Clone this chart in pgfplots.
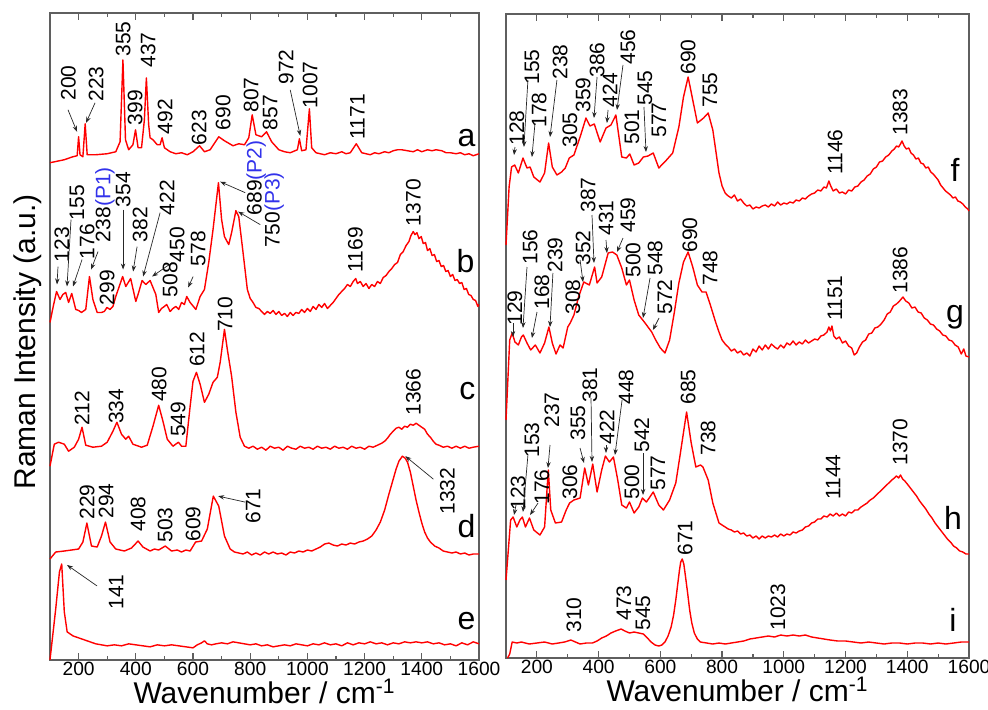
\documentclass[border=0pt]{standalone}
\usepackage{pgfplots}
\pgfplotsset{compat=1.18}
\usepackage{fontspec}
\setmainfont{Liberation Sans}
\usetikzlibrary{arrows.meta}
\definecolor{pblue}{RGB}{50,50,235}
\definecolor{framegray}{RGB}{95,95,95}
\begin{document}
\begin{tikzpicture}
\useasboundingbox (0,0) rectangle (494pt,354.5pt);
\pgfplotsset{
  raman/.style={
    scale only axis, anchor=south west, clip=false,
    xmin=100, xmax=1600, ymin=0,
    xtick={200,400,...,1600}, minor xtick={300,500,...,1500},
    ytick=\empty,
    tick align=inside, major tick length=3.5pt, minor tick length=2pt,
    every tick/.style={framegray, line width=0.6pt},
    axis line style={draw=framegray, line width=0.8pt},
    /pgf/number format/assume math mode=true,
    /pgf/number format/1000 sep={},
    tick label style={font=\fontsize{9.6}{10}\selectfont},
    xticklabel style={inner sep=1pt},
    xlabel={Wavenumber / cm\textsuperscript{-1}},
    xlabel style={font=\fontsize{15}{16}\selectfont, inner sep=0pt, yshift=-0.3pt},
  },
}
\tikzset{
  spec/.style={red, line width=0.7pt, line join=round},
  pk/.style={rotate=90, font=\fontsize{10.5}{11}\selectfont, inner sep=0pt},
  lt/.style={font=\fontsize{16}{17}\selectfont, inner sep=0pt},
  ar/.style={-{Stealth[length=3pt,width=2.2pt]}, line width=0.35pt, black!85},
}
\node[rotate=90, font=\fontsize{15}{16}\selectfont] at (14pt,183.5pt) {Raman Intensity (a.u.)};
% ================= LEFT PANEL =================
\begin{axis}[raman, at={(25pt,24.6pt)}, width=214.5pt, height=323.4pt, ymax=648]
% a
\addplot[spec] coordinates {(100,498) (150,501) (180,504) (195,505) (200,524) (205,506) (215,504) (223,537) (230,506) (260,506) (300,507) (330,509) (345,519) (355,601) (364,521) (375,511) (390,516) (399,531) (408,513) (420,513) (430,541) (437,583) (445,536) (450,523) (460,521) (475,516) (485,516) (492,523) (500,513) (520,509) (540,507) (560,508) (580,506) (600,509) (623,515) (640,509) (660,511) (690,524) (710,520) (740,515) (760,517) (780,516) (795,523) (807,546) (820,526) (840,524) (857,529) (875,519) (900,511) (920,509) (940,508) (965,511) (972,522) (980,510) (995,511) (1007,552) (1015,513) (1030,508) (1045,507) (1060,506) (1080,508) (1100,507) (1120,509) (1135,507) (1150,508) (1171,517) (1190,508) (1205,507) (1220,506) (1235,508) (1250,507) (1270,509) (1285,508) (1300,510) (1315,511) (1330,511) (1350,510) (1370,509) (1385,511) (1400,509) (1420,511) (1435,510) (1450,511) (1470,510) (1485,508) (1500,508) (1520,507) (1535,508) (1550,506) (1565,507) (1580,505) (1600,507)};
% b
\addplot[spec] coordinates {(100,338) (112,355) (123,369) (135,361) (145,366) (155,368) (165,358) (176,367) (190,351) (200,350) (210,348) (225,351) (238,384) (250,361) (265,348) (280,348) (290,349) (299,353) (310,351) (320,354) (330,364) (354,384) (365,374) (382,382) (400,359) (410,368) (422,380) (435,376) (450,380) (470,366) (480,348) (490,352) (500,354) (508,356) (520,349) (530,352) (540,354) (550,351) (560,358) (570,356) (578,364) (590,358) (610,351) (625,364) (640,371) (655,398) (670,431) (689,478) (700,441) (710,424) (725,416) (735,428) (750,450) (760,444) (775,408) (790,371) (800,362) (810,358) (820,353) (830,352) (840,349) (850,346) (860,349) (870,347) (880,350) (890,346) (900,349) (910,345) (920,347) (930,344) (940,348) (950,345) (960,348) (970,347) (980,351) (990,348) (1000,352) (1010,349) (1020,354) (1030,351) (1040,356) (1050,353) (1060,357) (1070,352) (1080,355) (1090,358) (1100,362) (1110,366) (1120,369) (1130,372) (1140,376) (1150,374) (1160,379) (1169,382) (1175,377) (1185,379) (1195,374) (1205,377) (1215,372) (1225,376) (1235,374) (1245,379) (1255,377) (1265,383) (1275,385) (1285,389) (1295,392) (1305,396) (1315,398) (1325,406) (1335,409) (1345,415) (1355,419) (1362,425) (1370,429) (1376,426) (1383,428) (1390,422) (1398,424) (1405,417) (1413,418) (1420,410) (1428,412) (1436,405) (1444,406) (1452,399) (1460,400) (1468,394) (1476,395) (1484,389) (1492,390) (1500,384) (1508,386) (1516,380) (1524,381) (1532,377) (1540,378) (1548,371) (1556,372) (1564,366) (1572,365) (1580,361) (1588,360) (1596,354) (1600,356)};
% c
\addplot[spec] coordinates {(100,194) (115,216) (130,218) (150,216) (165,209) (185,213) (200,221) (212,233) (225,215) (250,213) (280,214) (300,218) (320,229) (334,238) (350,226) (365,221) (375,224) (390,216) (420,213) (440,215) (460,234) (480,255) (495,239) (510,221) (530,214) (549,218) (560,214) (575,214) (590,254) (600,279) (612,288) (625,276) (640,258) (655,266) (670,278) (685,283) (695,298) (710,331) (720,311) (735,284) (750,248) (765,223) (780,214) (795,212) (810,214) (825,211) (840,213) (855,210) (870,214) (885,212) (900,213) (915,210) (930,214) (945,212) (960,211) (975,214) (990,212) (1005,213) (1020,211) (1035,214) (1050,212) (1065,213) (1080,211) (1095,214) (1110,212) (1125,213) (1140,211) (1155,214) (1170,212) (1185,213) (1200,211) (1215,214) (1230,213) (1245,215) (1260,217) (1270,219) (1280,222) (1290,226) (1300,229) (1310,232) (1320,233) (1330,231) (1340,234) (1350,233) (1360,236) (1370,235) (1380,237) (1390,235) (1400,233) (1410,231) (1420,226) (1430,223) (1440,219) (1450,216) (1460,215) (1475,213) (1490,214) (1505,212) (1520,214) (1535,212) (1550,214) (1565,212) (1580,213) (1600,214)};
% d
\addplot[spec] coordinates {(100,101) (120,108) (150,109) (175,110) (200,111) (215,118) (229,137) (245,114) (265,113) (280,124) (294,138) (310,118) (330,111) (345,110) (360,109) (385,112) (408,119) (425,113) (450,109) (465,111) (480,110) (503,114) (525,109) (545,110) (560,108) (575,110) (590,109) (609,118) (630,119) (650,131) (671,164) (690,154) (710,124) (730,111) (745,108) (760,107) (775,106) (790,108) (805,105) (820,107) (835,105) (850,108) (865,106) (880,108) (895,106) (910,107) (925,105) (940,108) (955,107) (970,109) (985,108) (1000,110) (1015,109) (1030,111) (1045,113) (1060,116) (1075,117) (1090,115) (1105,114) (1120,116) (1135,115) (1150,117) (1165,116) (1180,118) (1195,119) (1210,121) (1225,124) (1240,130) (1255,138) (1270,150) (1285,166) (1300,181) (1310,191) (1320,199) (1332,204) (1342,202) (1350,198) (1360,188) (1370,174) (1380,160) (1390,148) (1400,137) (1410,128) (1420,122) (1430,118) (1445,114) (1460,112) (1475,109) (1490,108) (1505,107) (1520,108) (1535,106) (1550,107) (1565,105) (1580,106) (1600,106)};
% e
\addplot[spec] coordinates {(100,0) (120,51) (133,88) (141,96) (150,48) (160,28) (180,24) (200,22) (220,20) (240,18) (260,16) (280,15) (300,14) (325,15) (350,14) (375,16) (400,15) (425,14) (450,13) (475,15) (500,14) (525,15) (550,14) (575,13) (600,12) (615,15) (630,17) (640,19) (650,16) (665,15) (680,16) (700,17) (720,16) (740,18) (760,17) (780,16) (800,15) (820,16) (840,14) (860,15) (880,13) (900,14) (920,15) (940,14) (960,16) (980,15) (1000,14) (1020,16) (1040,15) (1060,17) (1080,15) (1100,16) (1120,14) (1140,17) (1160,15) (1180,17) (1200,16) (1220,18) (1240,16) (1260,17) (1280,15) (1300,17) (1320,16) (1340,18) (1360,17) (1380,18) (1400,17) (1420,18) (1440,16) (1460,17) (1480,15) (1500,16) (1520,14) (1540,17) (1560,15) (1580,18) (1600,16)};
% labels a
\node[pk] at (164,578) {200}; \draw[ar] (163,551) -- (194.5,529);
\node[pk] at (261,577) {223}; \draw[ar] (257.5,558) -- (226,538);
\node[pk] at (355.5,622) {355};
\node[pk] at (397.5,553) {399};
\node[pk] at (443,611) {437};
\node[pk] at (502.5,544) {492};
\node[pk] at (621.5,533) {623};
\node[pk] at (705.5,548) {690};
\node[pk] at (803.5,566) {807};
\node[pk] at (870,548) {857};
\node[pk] at (926,594) {972}; \draw[ar] (940,571) -- (975,525);
\node[pk] at (1010,576) {1007};
\node[pk] at (1174.5,544) {1171};
\node[lt] at (1556,523) {a};
% labels b
\node[pk] at (142,416) {123}; \draw[ar] (128,394) -- (124.5,376);
\node[pk] at (194.5,458) {155}; \draw[ar] (173.5,441) -- (159.5,374);
\node[pk] at (229.5,419) {176}; \draw[ar] (212,401) -- (180.5,374);
\node[pk] at (292.5,456) {238{\color{pblue}(P1)}}; \draw[ar] (268,409) -- (243.5,391);
\node[pk] at (299.5,373) {299};
\node[pk] at (355.5,471) {354}; \draw[ar] (355.5,451) -- (355.5,391);
\node[pk] at (415,436) {382}; \draw[ar] (404.5,414) -- (390.5,389);
\node[pk] at (509.5,463) {422}; \draw[ar] (485,448) -- (425.5,384);
\node[pk] at (544.5,416) {450}; \draw[ar] (527,398) -- (457,384);
\node[pk] at (520,381) {508};
\node[pk] at (618,412) {578}; \draw[ar] (600.5,384) -- (583,373);
\node[pk] at (821,483) {689{\color{pblue}(P2)}}; \draw[ar] (782.5,468) -- (695,479);
\node[pk] at (884,451) {750{\color{pblue}(P3)}}; \draw[ar] (835,436) -- (758,449);
\node[pk] at (1167.5,411) {1169};
\node[pk] at (1370.5,458) {1370};
\node[lt] at (1552.5,399) {b};
% labels c
\node[pk] at (212,252) {212};
\node[pk] at (331,254) {334};
\node[pk] at (481.5,276) {480};
\node[pk] at (548,241) {549};
\node[pk] at (614.5,311) {612};
\node[pk] at (712.5,346) {710};
\node[pk] at (1370.5,268) {1366};
\node[lt] at (1559.5,269) {c};
% labels d
\node[pk] at (229.5,158) {229};
\node[pk] at (296,159) {294};
\node[pk] at (408,146) {408};
\node[pk] at (502.5,135) {503};
\node[pk] at (600.5,136) {609};
\node[pk] at (810.5,154) {671}; \draw[ar] (782.5,158) -- (688,164);
\node[pk] at (1489.5,169) {1332}; \draw[ar] (1440.5,181) -- (1342.5,204);
\node[lt] at (1556,134) {d};
% labels e
\node[pk] at (331,68) {141}; \draw[ar] (264.5,74) -- (159.5,95);
\node[lt] at (1556,39) {e};
\end{axis}
% ================= RIGHT PANEL =================
\begin{axis}[raman, at={(253pt,25.5pt)}, width=231.5pt, height=322pt, ymax=644]
% f
\addplot[spec] coordinates {(100,413) (110,471) (118,491) (128,493) (140,485) (155,500) (168,490) (178,491) (190,481) (210,476) (225,485) (238,515) (250,491) (265,483) (280,486) (292,490) (305,500) (320,503) (340,521) (359,540) (372,532) (386,534) (405,516) (424,530) (440,533) (456,543) (475,501) (490,500) (501,504) (515,493) (530,495) (545,501) (560,502) (577,505) (595,490) (620,498) (640,505) (660,531) (675,561) (690,581) (705,558) (720,535) (740,540) (755,545) (770,528) (790,485) (800,472) (810,465) (820,462) (830,460) (840,463) (850,457) (860,459) (870,455) (880,452) (890,453) (900,449) (910,451) (920,450) (930,452) (940,453) (950,451) (960,454) (970,452) (980,456) (990,453) (1000,455) (1010,454) (1020,456) (1030,455) (1040,458) (1050,457) (1060,460) (1070,459) (1080,462) (1090,464) (1100,465) (1110,468) (1120,467) (1130,471) (1138,470) (1146,477) (1152,472) (1160,467) (1170,469) (1180,465) (1190,466) (1200,464) (1210,468) (1220,467) (1230,471) (1240,472) (1250,476) (1260,478) (1270,482) (1280,484) (1290,489) (1300,491) (1310,496) (1320,497) (1330,501) (1340,503) (1350,507) (1358,509) (1365,512) (1372,511) (1378,514) (1383,517) (1390,512) (1397,509) (1405,510) (1412,505) (1420,503) (1428,499) (1436,500) (1444,495) (1452,494) (1460,490) (1468,491) (1476,486) (1484,484) (1492,481) (1500,478) (1508,473) (1516,470) (1524,467) (1532,465) (1540,463) (1548,460) (1556,461) (1564,457) (1572,456) (1580,454) (1588,451) (1596,449) (1600,447)};
% g
\addplot[spec] coordinates {(100,238) (112,318) (120,325) (129,316) (140,313) (150,321) (156,323) (168,315) (180,308) (195,313) (210,305) (225,315) (239,331) (250,315) (262,304) (275,313) (285,310) (300,331) (308,335) (320,343) (335,361) (352,376) (370,373) (387,391) (395,375) (410,381) (431,405) (445,406) (459,403) (475,390) (490,373) (500,378) (515,358) (530,343) (548,336) (560,331) (572,326) (585,318) (600,310) (615,305) (630,318) (645,345) (660,375) (675,396) (690,406) (705,391) (720,373) (735,366) (748,366) (760,355) (780,335) (790,326) (800,318) (810,314) (820,311) (830,307) (840,309) (850,305) (860,307) (870,303) (880,305) (890,302) (900,309) (910,306) (920,312) (930,308) (940,313) (950,309) (960,314) (970,311) (980,309) (990,313) (1000,310) (1010,315) (1020,313) (1030,317) (1040,313) (1050,316) (1060,314) (1070,318) (1080,315) (1090,317) (1100,319) (1110,318) (1120,322) (1130,323) (1140,326) (1146,331) (1151,327) (1156,332) (1162,322) (1170,319) (1180,321) (1190,315) (1200,317) (1210,312) (1220,310) (1228,303) (1236,305) (1245,311) (1255,316) (1265,318) (1275,324) (1285,325) (1295,330) (1305,331) (1315,334) (1325,338) (1335,344) (1345,346) (1355,352) (1365,354) (1375,357) (1386,361) (1395,357) (1405,355) (1415,350) (1425,351) (1435,346) (1445,345) (1455,340) (1465,338) (1475,334) (1485,333) (1495,329) (1505,327) (1515,323) (1525,322) (1535,318) (1545,317) (1555,313) (1565,311) (1575,304) (1583,309) (1590,302) (1600,301)};
% h
\addplot[spec] coordinates {(100,78) (110,118) (115,138) (123,141) (135,131) (145,138) (153,141) (163,131) (176,140) (190,128) (210,123) (225,131) (237,188) (245,148) (260,135) (280,136) (295,148) (306,155) (320,158) (340,160) (355,190) (367,173) (381,194) (395,166) (410,188) (422,202) (435,196) (448,201) (462,178) (475,153) (490,150) (500,156) (515,145) (530,151) (542,160) (555,156) (577,166) (595,153) (610,148) (630,158) (650,175) (665,205) (685,246) (700,215) (715,191) (730,193) (738,191) (755,178) (770,155) (790,135) (800,133) (810,131) (820,129) (830,128) (840,126) (850,127) (860,124) (870,125) (880,122) (890,123) (900,120) (910,122) (920,119) (930,122) (940,120) (950,122) (960,121) (970,123) (980,121) (990,124) (1000,122) (1010,124) (1020,123) (1030,126) (1040,125) (1050,127) (1060,128) (1070,131) (1080,132) (1090,135) (1100,136) (1110,139) (1120,139) (1130,142) (1140,141) (1150,144) (1160,142) (1170,145) (1180,142) (1190,144) (1200,142) (1210,146) (1220,145) (1230,148) (1240,148) (1250,151) (1260,153) (1270,155) (1280,158) (1290,160) (1300,163) (1310,166) (1320,169) (1330,172) (1340,175) (1350,178) (1358,180) (1365,182) (1372,180) (1378,183) (1385,179) (1392,177) (1400,174) (1410,170) (1420,166) (1430,162) (1440,157) (1450,153) (1460,149) (1470,144) (1480,140) (1490,135) (1500,131) (1510,127) (1520,123) (1530,119) (1540,116) (1550,112) (1560,110) (1570,107) (1580,106) (1590,104) (1600,104)};
% i
\addplot[spec] coordinates {(105,0) (112,4) (120,16) (135,15) (150,16) (175,14) (200,15) (225,16) (250,14) (270,15) (290,16) (310,18) (325,16) (340,14) (360,15) (380,15) (395,17) (410,20) (425,22) (440,25) (455,27) (473,29) (485,27) (500,25) (515,26) (530,25) (545,24) (558,20) (570,16) (583,13) (595,12) (605,13) (615,16) (625,22) (635,31) (643,43) (650,58) (656,73) (662,88) (666,96) (671,99) (676,94) (680,85) (688,66) (695,48) (702,35) (710,25) (720,19) (730,16) (750,15) (770,14) (790,15) (810,14) (830,15) (850,16) (870,17) (890,19) (910,20) (930,21) (950,22) (970,21) (990,23) (1010,22) (1030,23) (1050,22) (1070,23) (1090,21) (1110,20) (1130,19) (1150,18) (1175,17) (1200,17) (1225,16) (1250,15) (1275,16) (1300,15) (1325,14) (1350,15) (1375,15) (1400,14) (1425,15) (1450,15) (1475,14) (1500,15) (1525,14) (1550,15) (1575,16) (1600,16)};
% labels f
\node[pk] at (135.6,530) {128}; \draw[ar] (129,511) -- (126,503);
\node[pk] at (184,591) {155}; \draw[ar] (171,578) -- (158,511);
\node[pk] at (207,548) {178}; \draw[ar] (194,535) -- (184,501);
\node[pk] at (275,596) {238}; \draw[ar] (265,578) -- (242.5,521);
\node[pk] at (307,528) {305};
\node[pk] at (349.5,563) {359};
\node[pk] at (395,598) {386}; \draw[ar] (395,581) -- (385,540);
\node[pk] at (437,568) {424}; \draw[ar] (430.5,548) -- (427,535);
\node[pk] at (495,611) {456}; \draw[ar] (479,593) -- (459.5,548);
\node[pk] at (508,531) {501};
\node[pk] at (550,570) {545}; \draw[ar] (547,551) -- (553.5,506);
\node[pk] at (596,538) {577};
\node[pk] at (690,601) {690};
\node[pk] at (761,568) {755};
\node[pk] at (1166,506) {1146};
\node[pk] at (1376.5,546) {1383};
\node[lt] at (1555,488) {f};
% labels g
\node[pk] at (129,350) {129}; \draw[ar] (122.7,335) -- (122.7,321);
\node[pk] at (178,411) {156}; \draw[ar] (168,391) -- (155,330);
\node[pk] at (216.6,366) {168}; \draw[ar] (200.4,346) -- (184,320);
\node[pk] at (258.8,403) {239}; \draw[ar] (252,385) -- (242.5,331);
\node[pk] at (317,361) {308};
\node[pk] at (349.5,410) {352}; \draw[ar] (340,398) -- (349.5,376);
\node[pk] at (365.7,463) {387}; \draw[ar] (378.6,443) -- (385,395);
\node[pk] at (424,440) {431}; \draw[ar] (424,418) -- (427,405);
\node[pk] at (495,443) {459}; \draw[ar] (479,420) -- (459.6,406);
\node[pk] at (511.5,398) {500};
\node[pk] at (582.8,400) {548}; \draw[ar] (566.6,380) -- (543.9,340);
\node[pk] at (615,361) {572}; \draw[ar] (595.7,340) -- (576,328);
\node[pk] at (696,423) {690};
\node[pk] at (761,390) {748};
\node[pk] at (1166,360) {1151};
\node[pk] at (1376.5,388) {1386};
\node[lt] at (1555,341) {g};
% labels h
\node[pk] at (139,165) {123}; \draw[ar] (132.4,153) -- (126,143);
\node[pk] at (184,218) {153}; \draw[ar] (171,203) -- (155,146);
\node[pk] at (216.6,171) {176}; \draw[ar] (203.7,155) -- (177.8,143);
\node[pk] at (249,248) {237}; \draw[ar] (242.6,213) -- (236,190);
\node[pk] at (307,176) {306};
\node[pk] at (333,235) {355}; \draw[ar] (339.8,210) -- (352.7,195);
\node[pk] at (372,273) {381}; \draw[ar] (375.4,260) -- (378.6,196);
\node[pk] at (427,231) {422}; \draw[ar] (424,213) -- (424,205);
\node[pk] at (489,271) {448}; \draw[ar] (476,258) -- (453,203);
\node[pk] at (508,176) {500};
\node[pk] at (540.6,223) {542}; \draw[ar] (544,205) -- (544,163);
\node[pk] at (592.5,185) {577};
\node[pk] at (690,271) {685};
\node[pk] at (754.5,220) {738};
\node[pk] at (1159.5,181) {1144};
\node[pk] at (1376.5,216) {1370};
\node[lt] at (1548,140) {h};
% labels i
\node[pk] at (320,43) {310};
\node[pk] at (482,55) {473};
\node[pk] at (544,45) {545};
\node[pk] at (680,120) {671};
\node[pk] at (981,51) {1023};
\node[lt] at (1548,38) {i};
\end{axis}
\end{tikzpicture}
\end{document}
